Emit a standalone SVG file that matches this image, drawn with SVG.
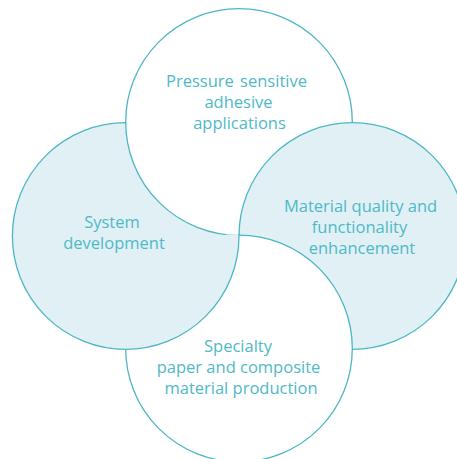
<svg xmlns="http://www.w3.org/2000/svg" xmlns:xlink="http://www.w3.org/1999/xlink" width="457" height="459" viewBox="0 0 457 459">
  <style>
    .ring { stroke: #4db6c4; stroke-width: 1.3; }
    .tint { fill: #e0f0f4; }
    .blank { fill: #ffffff; }
    .label { font-family: "Open Sans", "Noto Sans", "Liberation Sans", sans-serif; font-size: 16.5px; fill: #4fb9c7; text-anchor: middle; }
  </style>
  <defs>
    <circle id="c-left" cx="125.7" cy="236" r="113.3"/>
    <circle id="c-top" cx="239" cy="122" r="113.3"/>
    <circle id="c-right" cx="352.3" cy="236" r="113.3"/>
    <circle id="c-bottom" cx="239" cy="348.5" r="113.3"/>
    <!-- slightly wider than the bottom circle so its outline is covered too -->
    <clipPath id="clip-bottom">
      <circle cx="239" cy="348.5" r="114.6"/>
    </clipPath>
  </defs>

  <rect width="457" height="459" fill="#ffffff"/>

  <!-- four overlapping circles, layered as a pinwheel -->
  <g id="node-left">
    <use xlink:href="#c-left" class="ring tint"/>
  </g>
  <g id="node-top">
    <use xlink:href="#c-top" class="ring blank"/>
  </g>
  <g id="node-right">
    <use xlink:href="#c-right" class="ring tint"/>
  </g>
  <g id="node-bottom">
    <use xlink:href="#c-bottom" class="ring blank"/>
  </g>
  <!-- left circle laid back over the bottom one to close the cycle -->
  <g id="node-left-overlap" clip-path="url(#clip-bottom)">
    <use xlink:href="#c-left" class="ring tint"/>
  </g>

  <g id="connectors"/>

  <g id="labels">
    <text class="label" x="236.5" y="87" word-spacing="2">Pressure sensitive</text>
    <text class="label" x="238.5" y="108">adhesive</text>
    <text class="label" x="239.5" y="128.5">applications</text>

    <text class="label" x="112" y="228">System</text>
    <text class="label" x="114" y="248.5">development</text>

    <text class="label" x="360.5" y="211.5">Material quality and</text>
    <text class="label" x="359.5" y="233">functionality</text>
    <text class="label" x="362" y="254">enhancement</text>

    <text class="label" x="238" y="352">Specialty</text>
    <text class="label" x="238.5" y="373">paper and composite</text>
    <text class="label" x="241" y="394">material production</text>
  </g>
</svg>
